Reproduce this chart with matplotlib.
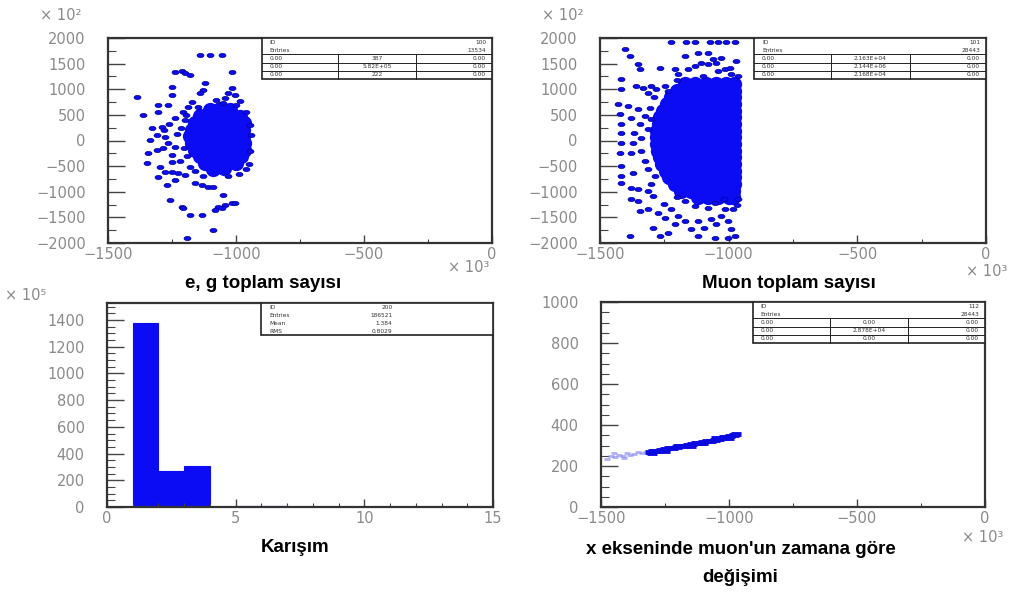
import numpy as np
import matplotlib.pyplot as plt
from matplotlib.path import Path
from matplotlib.patches import Rectangle
from matplotlib.transforms import Affine2D
from matplotlib.ticker import MultipleLocator

W, H = 1028, 596
BLUE = '#0c0cf4'
EDGE = '#000088'
GREY = '#8a8a8a'

# --- e, g toplam sayisi (x: x10^3, y: x10^2) ---
eg_outer = [(-1141, 1668), (-1102, 1668), (-1056, 1668), (-1238, 1343), (-1212, 1363),
            (-1199, 1311), (-1180, 1278), (-1017, 1343), (-1121, 1116), (-1128, 986),
            (-1141, 920), (-1251, 1050), (-1017, 1018), (-1030, 920), (-1004, 888),
            (-1043, 823), (-1388, 855), (-1251, 888), (-1264, 693), (-1303, 693),
            (-1303, 563), (-1173, 758), (-1186, 660), (-1206, 563), (-1362, 498),
            (-1330, 237), (-1336, 10), (-1290, 270), (-1310, 107), (-1277, 75),
            (-1264, -55), (-1238, -120), (-1251, -283), (-1284, -153), (-1310, -185),
            (-1342, -250), (-1349, -446), (-1297, -510), (-1277, -608), (-1303, -706),
            (-1271, -868), (-1251, -608), (-1225, -640), (-1238, -771), (-1199, -673),
            (-1160, -836), (-1134, -868), (-1108, -901), (-1088, -901), (-1050, -1063),
            (-1258, -1161), (-1212, -1291), (-1206, -1323), (-1180, -1453), (-1134, -1453),
            (-1069, -1291), (-1043, -1258), (-1017, -1226), (-1004, -1226), (-1082, -1356),
            (-1056, -1323), (-1090, -1746), (-1191, -1900), (-1200, 400), (-1215, 250),
            (-1190, -300), (-1220, -400), (-1195, 500), (-1230, 120), (-1205, -150),
            (-945, 300), (-942, 100), (-945, -200), (-948, -450), (-962, -560),
            (-990, -650), (-1030, -700), (-1130, -700), (-1160, -600), (-1080, 790),
            (-1000, 700), (-1150, 650), (-962, 560), (-1240, 430), (-1260, 330),
            (-1250, -420), (-1280, 200), (-985, 780), (-1050, 740), (-1180, -520)]
eg_core = [(-1100, 600), (-1062, 615), (-1022, 590),
           (-1142, 470), (-1100, 480), (-1058, 462), (-1020, 475), (-983, 455),
           (-1162, 340), (-1120, 350), (-1080, 332), (-1040, 345), (-1000, 330), (-970, 342),
           (-1172, 210), (-1130, 205), (-1090, 218), (-1050, 200), (-1010, 212), (-972, 205),
           (-1178, 80), (-1136, 88), (-1095, 72), (-1055, 85), (-1015, 78), (-972, 82),
           (-1172, -50), (-1130, -42), (-1090, -58), (-1050, -45), (-1010, -55), (-970, -48),
           (-1160, -180), (-1120, -172), (-1080, -188), (-1040, -175), (-1000, -185), (-970, -178),
           (-1140, -310), (-1100, -302), (-1060, -318), (-1020, -305), (-982, -312),
           (-1120, -440), (-1080, -432), (-1040, -446), (-1000, -438),
           (-1090, -550), (-1048, -545)]

# --- Muon toplam sayisi ---
mu_outer = [(-1223, 1922), (-1165, 1922), (-1132, 1922), (-1074, 1922), (-1042, 1922),
            (-1009, 1922), (-977, 1922), (-1404, 1779), (-1385, 1649), (-1171, 1649),
            (-1120, 1714), (-1081, 1714), (-1061, 1584), (-1029, 1616), (-1353, 1486),
            (-1346, 1389), (-1268, 1421), (-1210, 1389), (-1197, 1291), (-1158, 1389),
            (-1132, 1454), (-1107, 1519), (-1081, 1486), (-1048, 1519), (-1016, 1389),
            (-996, 1421), (-990, 1300), (-1040, 1350), (-1100, 1250), (-1417, 1193),
            (-1417, 1011), (-1359, 1063), (-1333, 1031), (-1301, 1063), (-1281, 998),
            (-1314, 933), (-1249, 1063), (-1236, 966), (-1430, 706), (-1391, 673),
            (-1353, 608), (-1307, 641), (-1327, 478), (-1378, 446), (-1424, 511),
            (-1417, 315), (-1346, 315), (-1301, 413), (-1314, 218), (-1366, 153),
            (-1417, 153), (-1372, -42), (-1340, 55), (-1417, -42), (-1424, -237),
            (-1378, -237), (-1417, -498), (-1372, -628), (-1417, -693), (-1417, -823),
            (-1378, -920), (-1340, -205), (-1327, -400), (-1314, -563), (-1288, -693),
            (-1353, -953), (-1314, -985), (-1378, -1148), (-1353, -1180), (-1294, -1083),
            (-1346, -1376), (-1314, -1343), (-1275, -1408), (-1249, -1506), (-1223, -1343),
            (-1197, -1473), (-1171, -1571), (-1210, -1636), (-1236, -1798), (-1268, -1863),
            (-1385, -1863), (-1294, -1701), (-1120, -1571), (-1094, -1701), (-1145, -1733),
            (-1068, -1538), (-1048, -1636), (-1029, -1473), (-1003, -1571), (-990, -1733),
            (-977, -1863), (-1003, -1896), (-1055, -1896), (-1120, -1863), (-1171, -1180),
            (-1132, -1278), (-1081, -1311), (-1055, -1213), (-1016, -1343), (-983, -1343),
            (-964, -1148), (-964, 1250), (-970, 1560), (-1200, 1180), (-1290, 850),
            (-1300, -850), (-1250, -1230), (-1200, -1100), (-966, -1250), (-1020, -1150)]
mu_core_y = [1100, 970, 840, 710, 580, 450, 320, 190, 60, -70, -200, -330,
             -460, -590, -720, -850, -980, -1100]
mu_core_x = [[-1170, -1130, -1090, -1050, -1010, -980],
             [-1200, -1160, -1120, -1080, -1040, -1000, -980],
             [-1225, -1185, -1145, -1105, -1065, -1025, -985, -980],
             [-1240, -1200, -1160, -1120, -1080, -1040, -1000, -980],
             [-1255, -1215, -1175, -1135, -1095, -1055, -1015, -980],
             [-1265, -1225, -1185, -1145, -1105, -1065, -1025, -985, -980],
             [-1272, -1232, -1192, -1152, -1112, -1072, -1032, -992, -980],
             [-1278, -1238, -1198, -1158, -1118, -1078, -1038, -998, -980],
             [-1280, -1240, -1200, -1160, -1120, -1080, -1040, -1000, -980],
             [-1280, -1240, -1200, -1160, -1120, -1080, -1040, -1000, -980],
             [-1275, -1235, -1195, -1155, -1115, -1075, -1035, -995, -980],
             [-1268, -1228, -1188, -1148, -1108, -1068, -1028, -988, -980],
             [-1258, -1218, -1178, -1138, -1098, -1058, -1018, -980],
             [-1245, -1205, -1165, -1125, -1085, -1045, -1005, -980],
             [-1230, -1190, -1150, -1110, -1070, -1030, -990, -980],
             [-1210, -1170, -1130, -1090, -1050, -1010, -980],
             [-1185, -1145, -1105, -1065, -1025, -985],
             [-1120, -1080, -1040, -1000, -982]]

# --- Karisim (x10^5) ---
mix_edges = [1, 2, 3, 4, 5, 6, 7]
mix_counts = [1378, 270, 306, 0, 9, 9]

# --- x ekseninde muon'un zamana gore degisimi ---
tx_faint = [(-1475, 235), (-1460, 248), (-1445, 242), (-1430, 255), (-1415, 250),
            (-1400, 262), (-1385, 255), (-1370, 258), (-1355, 268), (-1340, 262),
            (-1325, 270), (-1450, 262), (-1410, 238)]
tx_dark = [(-1310, 268), (-1295, 272), (-1280, 275), (-1265, 280), (-1250, 282),
           (-1235, 287), (-1220, 290), (-1205, 293), (-1190, 297), (-1175, 300),
           (-1160, 303), (-1145, 307), (-1130, 310), (-1115, 313), (-1100, 317),
           (-1085, 320), (-1070, 324), (-1055, 327), (-1040, 331), (-1025, 335),
           (-1010, 340), (-995, 345), (-980, 350), (-972, 356), (-1300, 262),
           (-1250, 275), (-1200, 300), (-1150, 298), (-1100, 310), (-1050, 335),
           (-1000, 338), (-1020, 343)]

box_eg = ('100', '13534', [('0.00', '387', '0.00'), ('0.00', '5.82E+05', '0.00'), ('0.00', '222', '0.00')])
box_mu = ('101', '28443', [('0.00', '2.163E+04', '0.00'), ('0.00', '2.144E+06', '0.00'), ('0.00', '2.168E+04', '0.00')])
box_tx = ('112', '28443', [('0.00', '0.00', '0.00'), ('0.00', '2.878E+04', '0.00'), ('0.00', '0.00', '0.00')])
box_mix = [('ID', '200'), ('Entries', '186521'), ('Mean', '1.384'), ('RMS', '0.8029')]

dash = Path.unit_circle().transformed(Affine2D().scale(1.0, 0.6))

fig = plt.figure(figsize=(W / 100, H / 100), dpi=100)


def rect(l, t, r, b):
    return [l / W, 1 - b / H, (r - l) / W, (b - t) / H]


def frame(r, xlim, ylim, xmaj, xmin, ymaj, ymin):
    ax = fig.add_axes(r)
    ax.set_xlim(xlim)
    ax.set_ylim(ylim)
    ax.xaxis.set_major_locator(MultipleLocator(xmaj))
    ax.xaxis.set_minor_locator(MultipleLocator(xmin))
    ax.yaxis.set_major_locator(MultipleLocator(ymaj))
    ax.yaxis.set_minor_locator(MultipleLocator(ymin))
    ax.tick_params(which='both', direction='in', colors='#444444', labelcolor=GREY,
                   labelsize=10.5, top=False, right=False)
    ax.tick_params(axis='y', which='major', length=12, width=1, pad=16)
    ax.tick_params(axis='y', which='minor', length=6, width=0.8)
    ax.tick_params(axis='x', which='major', length=6, width=1, pad=3)
    ax.tick_params(axis='x', which='minor', length=3, width=0.8)
    for s in ax.spines.values():
        s.set_linewidth(1.6)
        s.set_color('#333333')
    return ax


def stats(ax, x0, y0, ident, entries, grid):
    ax.add_patch(Rectangle((x0, y0), 1 - x0, 1 - y0, transform=ax.transAxes,
                           fc='white', ec='#222222', lw=1.2, zorder=5))
    h = (1 - y0) / 5
    kw = dict(transform=ax.transAxes, fontsize=4.2, color='#333333', va='center', zorder=6)
    ax.text(x0 + 0.02, 1 - 0.5 * h, 'ID', **kw)
    ax.text(0.985, 1 - 0.5 * h, ident, ha='right', **kw)
    ax.text(x0 + 0.02, 1 - 1.5 * h, 'Entries', **kw)
    ax.text(0.985, 1 - 1.5 * h, entries, ha='right', **kw)
    c1, c2 = x0 + 0.33 * (1 - x0), x0 + 0.67 * (1 - x0)
    for i, (a, b, c) in enumerate(grid):
        yc = 1 - (2.5 + i) * h
        ax.text(x0 + 0.02, yc, a, **kw)
        ax.text((c1 + c2) / 2, yc, b, ha='center', **kw)
        ax.text(0.985, yc, c, ha='right', **kw)
        ax.plot([x0, 1], [1 - (2 + i) * h] * 2, transform=ax.transAxes, color='#222222', lw=0.7, zorder=6)
    for c in (c1, c2):
        ax.plot([c, c], [y0, 1 - 2 * h], transform=ax.transAxes, color='#222222', lw=0.7, zorder=6)


def scatter(ax, outer, core):
    cx, cy = zip(*core)
    ax.plot(cx, cy, ls='none', marker='o', ms=11, mfc=BLUE, mec=BLUE, mew=0, zorder=2)
    ox, oy = zip(*outer)
    ax.plot(ox, oy, ls='none', marker=dash, ms=5, mfc=BLUE, mec=EDGE, mew=0.5, zorder=3)


# e, g toplam sayisi
ax1 = frame(rect(108, 38, 492, 243), (-1500, 0), (-2000, 2000), 500, 250, 500, 250)
scatter(ax1, eg_outer, eg_core)
stats(ax1, 0.40, 0.80, *box_eg)

# Muon toplam sayisi
mu_core = [(x, y) for y, row in zip(mu_core_y, mu_core_x) for x in row]
ax2 = frame(rect(600, 38, 986, 243), (-1500, 0), (-2000, 2000), 500, 250, 500, 250)
scatter(ax2, mu_outer, mu_core)
stats(ax2, 0.40, 0.80, *box_mu)

# Karisim histogram
ax3 = frame(rect(107, 303, 493, 507), (0, 15), (0, 1527), 5, 1, 200, 50)
ax3.bar(mix_edges[:-1], mix_counts, width=1, align='edge', color=BLUE, edgecolor=BLUE, lw=0.8)
ax3.add_patch(Rectangle((0.40, 0.843), 0.60, 0.157, transform=ax3.transAxes,
                        fc='white', ec='#222222', lw=1.2, zorder=5))
for i, (k, v) in enumerate(box_mix):
    yc = 1 - (i + 0.5) * 0.157 / 4
    ax3.text(0.42, yc, k, transform=ax3.transAxes, fontsize=4.2, color='#333333', va='center', zorder=6)
    ax3.text(0.74, yc, v, transform=ax3.transAxes, fontsize=4.2, color='#333333', va='center', ha='right', zorder=6)

# x ekseninde muon'un zamana gore degisimi
ax4 = frame(rect(601, 302, 985, 507), (-1500, 0), (0, 1000), 500, 250, 200, 50)
fx, fy = zip(*tx_faint)
ax4.plot(fx, fy, ls='none', marker='_', ms=5, mew=2, color='#8f8ff4', alpha=0.7)
dx, dy = zip(*tx_dark)
ax4.plot(dx, dy, ls='none', marker='_', ms=7, mew=3.5, color='#0a0ae0')
stats(ax4, 0.396, 0.80, *box_tx)

# exponent labels
ek = dict(color=GREY, fontsize=10.5, ha='left', va='center')
fig.text(40 / W, 1 - 16 / H, '× 10²', **ek)
fig.text(542 / W, 1 - 16 / H, '× 10²', **ek)
fig.text(448 / W, 1 - 268 / H, '× 10³', **ek)
fig.text(966 / W, 1 - 272 / H, '× 10³', **ek)
fig.text(5 / W, 1 - 296 / H, '× 10⁵', **ek)
fig.text(962 / W, 1 - 538 / H, '× 10³', **ek)

# captions
tk = dict(fontsize=13.5, fontweight='bold', family='Liberation Sans', ha='center', va='center')
fig.text(263 / W, 1 - 283 / H, 'e, g toplam sayısı', **tk)
fig.text(789 / W, 1 - 283 / H, 'Muon toplam sayısı', **tk)
fig.text(295 / W, 1 - 548 / H, 'Karışım', **tk)
fig.text(741 / W, 1 - 549 / H, "x ekseninde muon'un zamana göre", **tk)
fig.text(740 / W, 1 - 578 / H, 'değişimi', **tk)

fig.savefig('out.png', dpi=100)
